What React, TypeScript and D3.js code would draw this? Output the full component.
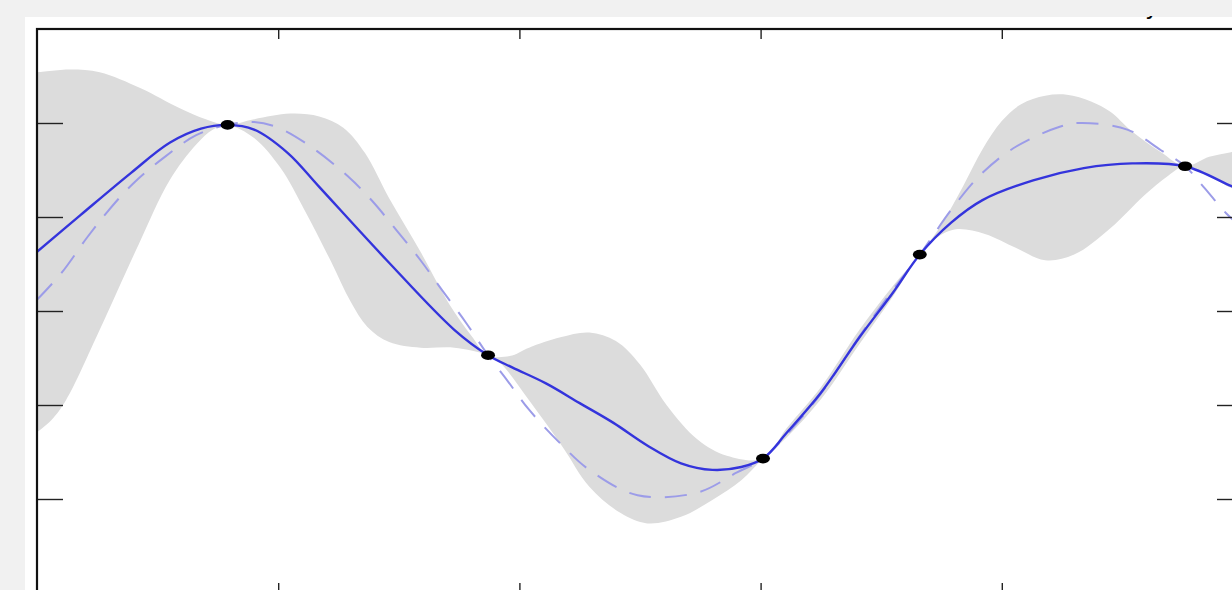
import React, { useEffect, useRef } from 'react'
import * as d3 from 'd3'

// tick positions (labels are outside the visible crop)
const xTicks = [1, 2, 3, 4]
const yTicks = [-2, -1, 0, 1, 2]

// observed samples
const obsX = [0.79, 1.87, 3.01, 3.66, 4.76]
const obsY = [1.98, -0.47, -1.57, 0.6, 1.54]

// predicted mean
const meanPts: [number, number][] = [
  [0, 0.63], [0.18, 1.02], [0.39, 1.47], [0.55, 1.79], [0.68, 1.94], [0.79, 1.98],
  [0.9, 1.93], [1.04, 1.68], [1.17, 1.32], [1.45, 0.54], [1.73, -0.2], [1.87, -0.47],
  [1.97, -0.6], [2.11, -0.77], [2.25, -0.98], [2.39, -1.19], [2.53, -1.43], [2.67, -1.62],
  [2.8, -1.69], [2.92, -1.66], [3.01, -1.57], [3.11, -1.29], [3.25, -0.87], [3.41, -0.28],
  [3.55, 0.2], [3.66, 0.6], [3.79, 0.94], [3.92, 1.18], [4.13, 1.39], [4.34, 1.52],
  [4.54, 1.57], [4.76, 1.54], [4.95, 1.33], [5, 1.28],
]

// true function (dashed)
const truePts: [number, number][] = [
  [0, 0.12], [0.1, 0.4], [0.21, 0.79], [0.29, 1.05], [0.4, 1.36], [0.53, 1.64], [0.66, 1.87],
  [0.79, 1.98], [0.9, 2.01], [1.0, 1.95], [1.14, 1.74], [1.29, 1.43], [1.39, 1.17],
  [1.49, 0.86], [1.59, 0.54], [1.68, 0.22], [1.78, -0.13], [1.87, -0.47], [1.95, -0.74], [2.04, -1.05],
  [2.17, -1.41], [2.29, -1.69], [2.49, -1.96], [2.74, -1.93], [2.9, -1.72], [3.01, -1.57], [3.11, -1.31],
  [3.25, -0.88], [3.41, -0.27], [3.55, 0.23], [3.66, 0.6], [3.8, 1.11], [3.92, 1.47], [4.06, 1.75],
  [4.24, 1.96], [4.32, 2.0], [4.52, 1.93], [4.66, 1.71], [4.76, 1.54], [4.84, 1.31], [4.93, 1.04], [5, 0.88],
]

// confidence band
const upperPts: [number, number][] = [
  [0, 2.54], [0.14, 2.57], [0.26, 2.54], [0.43, 2.37], [0.59, 2.16], [0.7, 2.04], [0.79, 1.98],
  [0.9, 2.04], [1.05, 2.1], [1.17, 2.07], [1.27, 1.95], [1.36, 1.68], [1.46, 1.2], [1.59, 0.63],
  [1.71, 0.07], [1.8, -0.26], [1.87, -0.47], [1.96, -0.48], [2.04, -0.39], [2.17, -0.28], [2.29, -0.23],
  [2.4, -0.32], [2.5, -0.57], [2.61, -1.0], [2.74, -1.37], [2.86, -1.54], [3.01, -1.57], [3.11, -1.24],
  [3.25, -0.81], [3.41, -0.2], [3.55, 0.27], [3.66, 0.6], [3.75, 0.92], [3.84, 1.33], [3.92, 1.72],
  [4.0, 2.02], [4.08, 2.2], [4.18, 2.29], [4.27, 2.3], [4.37, 2.23], [4.45, 2.12], [4.54, 1.91],
  [4.66, 1.69], [4.76, 1.54], [4.86, 1.64], [4.95, 1.69], [5, 1.71],
]
const lowerPts: [number, number][] = [
  [0, -1.29], [0.06, -1.16], [0.12, -0.95], [0.26, -0.2], [0.42, 0.7], [0.55, 1.39], [0.66, 1.77],
  [0.73, 1.93], [0.79, 1.98], [0.9, 1.84], [1.01, 1.52], [1.11, 1.07], [1.22, 0.52], [1.3, 0.1],
  [1.37, -0.17], [1.46, -0.33], [1.59, -0.39], [1.73, -0.39], [1.87, -0.47], [1.92, -0.55], [2.04, -0.95],
  [2.18, -1.45], [2.29, -1.87], [2.42, -2.15], [2.53, -2.26], [2.67, -2.19], [2.8, -2.01], [2.92, -1.8],
  [3.01, -1.57], [3.11, -1.34], [3.25, -0.94], [3.41, -0.35], [3.55, 0.16], [3.66, 0.6], [3.73, 0.78],
  [3.81, 0.87], [3.93, 0.82], [4.06, 0.67], [4.18, 0.54], [4.3, 0.6], [4.45, 0.88], [4.59, 1.23],
  [4.69, 1.44], [4.76, 1.54], [4.86, 1.44], [4.95, 1.31], [5, 1.27],
]

const W = 1232
const H = 590
const plot = { left: 37, top: 29, right: 1243, bottom: 593 }

export default function App() {
  const ref = useRef<SVGSVGElement>(null)

  useEffect(() => {
    const svg = d3.select(ref.current)
    svg.selectAll('*').remove()

    const x = d3.scaleLinear().domain([0, 5]).range([plot.left, plot.right])
    const y = d3.scaleLinear().domain([-3, 3]).range([plot.bottom, plot.top])

    svg.append('rect').attr('width', W).attr('height', H).attr('fill', '#f1f1f1')
    svg.append('rect').attr('x', 25).attr('y', 17).attr('width', W - 25).attr('height', H - 17).attr('fill', '#fff')

    // cut-off title, only the descender shows
    svg.append('text').text('y')
      .attr('x', 1152).attr('y', 14)
      .attr('text-anchor', 'middle')
      .attr('font-family', 'DejaVu Sans')
      .attr('font-size', 24)
      .attr('fill', '#000')
    svg.append('rect').attr('width', W).attr('height', 16).attr('fill', '#f1f1f1')

    svg.append('defs').append('clipPath').attr('id', 'plotClip')
      .append('rect')
      .attr('x', plot.left).attr('y', plot.top)
      .attr('width', plot.right - plot.left).attr('height', plot.bottom - plot.top)

    const g = svg.append('g').attr('clip-path', 'url(#plotClip)')

    const line = d3.line<[number, number]>()
      .x(d => x(d[0]))
      .y(d => y(d[1]))
      .curve(d3.curveCatmullRom.alpha(0.5))

    // band: upper edge then lower edge backwards
    const up = line(upperPts) as string
    const low = (line(lowerPts.slice().reverse()) as string).replace(/^M/, 'L')
    g.append('path').attr('d', up + low + 'Z').attr('fill', '#dcdcdc')

    g.append('path').attr('d', line(truePts))
      .attr('fill', 'none')
      .attr('stroke', '#9c9ce8')
      .attr('stroke-width', 2)
      .attr('stroke-dasharray', '22,14')

    g.append('path').attr('d', line(meanPts))
      .attr('fill', 'none')
      .attr('stroke', '#3434dc')
      .attr('stroke-width', 2.4)

    g.selectAll('ellipse.obs').data(obsX).enter().append('ellipse')
      .attr('cx', d => x(d))
      .attr('cy', (d, i) => y(obsY[i]))
      .attr('rx', 7).attr('ry', 4.8)
      .attr('fill', '#000')

    // ticks pointing inward on all four sides
    const noLabel = () => ''
    const axes = [
      { ax: d3.axisTop(x).tickValues(xTicks).tickSize(-10), t: `translate(0,${plot.top})` },
      { ax: d3.axisBottom(x).tickValues(xTicks).tickSize(-10), t: `translate(0,${plot.bottom})` },
      { ax: d3.axisLeft(y).tickValues(yTicks).tickSize(-26), t: `translate(${plot.left},0)` },
      { ax: d3.axisRight(y).tickValues(yTicks).tickSize(-26), t: `translate(${plot.right},0)` },
    ]
    axes.forEach(a => {
      const ag = svg.append('g').attr('transform', a.t).call(a.ax.tickFormat(noLabel) as any)
      ag.select('.domain').remove()
      ag.selectAll('line').attr('stroke', '#222').attr('stroke-width', 1.4)
    })

    svg.append('rect')
      .attr('x', plot.left).attr('y', plot.top)
      .attr('width', plot.right - plot.left).attr('height', plot.bottom - plot.top)
      .attr('fill', 'none')
      .attr('stroke', '#111')
      .attr('stroke-width', 2.2)
  }, [])

  return (
    <svg ref={ref} width={W} height={H} style={{ position: 'absolute', left: 0, top: 0, display: 'block' }} />
  )
}
